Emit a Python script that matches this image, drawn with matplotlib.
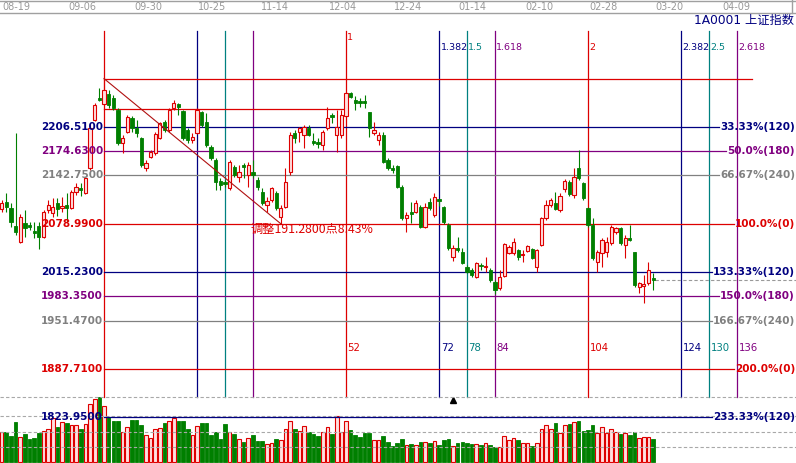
import matplotlib
matplotlib.use('Agg')
import matplotlib.pyplot as plt
from matplotlib.lines import Line2D
from matplotlib.transforms import blended_transform_factory
import numpy as np

plt.rcParams['font.family'] = ['DejaVu Sans', 'Noto Sans CJK SC']

# ---------------- data ----------------
first_bar = -22  # bar index of the first candle (0 = swing high bar)
opens = [2098.5, 2107.7, 2099.8, 2076.1, 2055.0, 2080.0, 2077.4, 2069.5, 2076.1, 2061.6,
         2097.2, 2093.2, 2106.4, 2099.8, 2103.7, 2099.8, 2120.9, 2126.1, 2119.5, 2152.5,
         2215.7, 2244.7,
         2236.8, 2250.0, 2244.7, 2228.9, 2185.4, 2199.9, 2218.3, 2205.2, 2192.0, 2152.5,
         2166.9, 2172.2, 2192.0, 2213.1, 2202.6, 2231.5, 2236.8, 2227.6, 2202.6, 2189.4,
         2198.6, 2226.3, 2213.1, 2180.2, 2163.0, 2135.4, 2134.0, 2126.1, 2153.8, 2140.6,
         2156.4, 2143.3, 2147.2, 2136.7, 2120.9, 2103.7, 2110.3, 2119.5, 2087.9, 2101.1,
         2147.2, 2198.6, 2199.9, 2196.0, 2205.2, 2188.1, 2186.7, 2182.8, 2205.2, 2222.3,
         2196.0, 2196.0, 2221.0, 2251.3, 2242.1, 2240.8, 2240.8, 2226.3, 2198.6, 2189.4,
         2196.0, 2163.0, 2152.5, 2155.1, 2127.5, 2086.6, 2094.5, 2094.5, 2101.1, 2074.8,
         2107.7, 2090.6, 2111.6, 2101.1, 2077.4, 2035.2, 2047.1, 2041.8, 2022.1, 2018.1,
         2008.9, 2024.7, 2022.1, 2018.1, 2002.3, 1994.4, 2010.2, 2040.5, 2040.5, 2044.5,
         2037.9, 2043.1, 2045.8, 2022.1, 2051.0, 2086.6, 2103.7, 2106.4, 2097.2, 2124.8,
         2134.0, 2116.9, 2152.5, 2132.7, 2099.8, 2077.4, 2028.7, 2040.5, 2041.8, 2053.7,
         2068.2, 2073.4, 2051.0, 2060.3, 2041.8, 1995.7, 1997.0, 2001.0, 2007.6]
highs = [2110.3, 2119.5, 2106.4, 2198.6, 2091.9, 2097.2, 2081.4, 2081.4, 2081.4, 2097.2,
         2110.3, 2113.0, 2113.0, 2114.3, 2119.5, 2123.5, 2132.7, 2132.7, 2140.6, 2211.8,
         2238.1, 2257.9,
         2270.27, 2255.2, 2248.7, 2231.5, 2196.0, 2222.3, 2221.0, 2215.7, 2193.3, 2163.0,
         2176.2, 2199.9, 2213.1, 2215.7, 2231.5, 2242.1, 2238.1, 2228.9, 2205.2, 2198.6,
         2231.5, 2227.6, 2224.9, 2182.8, 2165.7, 2139.3, 2136.7, 2163.0, 2156.4, 2156.4,
         2159.1, 2160.4, 2163.0, 2140.6, 2126.1, 2114.3, 2127.5, 2122.2, 2103.7, 2152.5,
         2199.9, 2202.6, 2206.5, 2209.1, 2209.1, 2198.6, 2192.0, 2202.6, 2232.8, 2224.9,
         2228.9, 2228.9, 2252.6, 2252.6, 2247.3, 2244.7, 2248.7, 2226.3, 2213.1, 2199.9,
         2199.9, 2165.7, 2156.4, 2156.4, 2130.1, 2094.5, 2107.7, 2110.3, 2103.7, 2106.4,
         2113.0, 2119.5, 2111.6, 2102.4, 2080.0, 2051.0, 2061.6, 2047.1, 2024.7, 2020.7,
         2028.7, 2027.3, 2035.2, 2020.7, 2004.9, 2018.1, 2053.7, 2051.0, 2060.3, 2045.8,
         2044.5, 2051.0, 2047.1, 2045.8, 2087.9, 2110.3, 2113.0, 2120.9, 2119.5, 2138.0,
         2136.7, 2152.5, 2176.2, 2134.0, 2101.1, 2086.6, 2044.5, 2060.3, 2061.6, 2077.4,
         2074.8, 2074.8, 2064.2, 2077.4, 2041.8, 2002.3, 2011.5, 2028.7, 2014.2]
lows = [2094.5, 2094.5, 2074.8, 2064.2, 2053.7, 2061.6, 2070.8, 2060.3, 2045.8, 2060.3,
        2093.2, 2087.9, 2089.3, 2094.5, 2081.4, 2098.5, 2116.9, 2115.6, 2118.2, 2149.9,
        2214.4, 2240.8,
        2235.5, 2231.5, 2228.9, 2182.8, 2172.2, 2198.6, 2199.9, 2193.3, 2153.8, 2148.5,
        2165.7, 2169.6, 2190.7, 2199.9, 2199.9, 2228.9, 2222.3, 2189.4, 2185.4, 2185.4,
        2197.3, 2206.5, 2180.2, 2163.0, 2123.5, 2123.5, 2127.5, 2123.5, 2140.6, 2134.0,
        2139.3, 2127.5, 2139.3, 2123.5, 2103.7, 2094.5, 2107.7, 2097.2, 2078.99, 2099.8,
        2143.3, 2185.4, 2186.7, 2178.8, 2194.6, 2182.8, 2178.8, 2176.2, 2202.6, 2211.8,
        2173.6, 2192.0, 2219.7, 2244.7, 2228.9, 2232.8, 2231.5, 2193.3, 2196.0, 2182.8,
        2159.1, 2149.9, 2145.9, 2126.1, 2084.0, 2068.2, 2080.0, 2093.2, 2073.4, 2073.4,
        2097.2, 2087.9, 2102.4, 2078.7, 2044.5, 2030.0, 2041.8, 2026.0, 2014.2, 2008.9,
        2007.6, 2018.1, 2015.5, 2002.3, 1986.5, 1991.8, 2008.9, 2039.2, 2037.9, 2031.3,
        2028.7, 2041.8, 2032.6, 2015.5, 2049.7, 2084.0, 2101.1, 2097.2, 2094.5, 2120.9,
        2115.6, 2113.0, 2136.7, 2110.3, 2074.8, 2031.3, 2015.5, 2022.1, 2035.2, 2051.0,
        2065.5, 2051.0, 2033.9, 2056.3, 1995.7, 1987.8, 1974.6, 1998.4, 1991.8]
closes = [2106.4, 2101.1, 2081.4, 2068.2, 2087.9, 2073.4, 2074.8, 2066.9, 2061.6, 2094.5,
          2103.7, 2101.1, 2098.5, 2102.4, 2099.8, 2120.9, 2127.5, 2123.5, 2139.3, 2205.2,
          2235.5, 2242.1,
          2255.2, 2235.5, 2231.5, 2185.4, 2192.0, 2219.7, 2205.2, 2198.6, 2156.4, 2159.1,
          2173.6, 2197.3, 2211.8, 2202.6, 2228.9, 2238.1, 2232.8, 2192.0, 2189.4, 2193.3,
          2228.9, 2209.1, 2182.8, 2165.7, 2134.0, 2130.1, 2131.4, 2160.4, 2143.3, 2147.2,
          2153.8, 2156.4, 2143.3, 2127.5, 2106.4, 2109.0, 2126.1, 2099.8, 2099.8, 2134.0,
          2196.0, 2192.0, 2205.2, 2206.5, 2196.0, 2185.4, 2184.1, 2199.9, 2218.3, 2219.7,
          2206.5, 2222.3, 2251.3, 2246.0, 2238.1, 2238.1, 2238.1, 2205.2, 2202.6, 2196.0,
          2160.4, 2152.5, 2149.9, 2127.5, 2086.6, 2090.6, 2091.9, 2106.4, 2074.8, 2101.1,
          2099.8, 2114.3, 2109.0, 2081.4, 2047.1, 2047.1, 2044.5, 2027.3, 2015.5, 2011.5,
          2027.3, 2023.4, 2023.4, 2004.9, 1991.8, 2008.9, 2052.4, 2048.4, 2055.0, 2035.2,
          2039.2, 2049.7, 2033.9, 2044.5, 2086.6, 2103.7, 2110.3, 2098.5, 2115.6, 2135.4,
          2118.2, 2140.6, 2139.3, 2113.0, 2077.4, 2033.9, 2041.8, 2057.6, 2055.0, 2074.8,
          2073.4, 2053.7, 2060.3, 2057.6, 1998.4, 2001.0, 1999.7, 2018.1, 2004.9]
volumes = [30, 30, 26, 40, 25, 28, 23, 24, 29, 31, 33, 44, 35, 40, 39, 37, 37, 33, 38, 58,
           63, 65,
           56, 45, 41, 41, 30, 35, 42, 42, 37, 27, 24, 33, 34, 39, 41, 44, 41, 41, 33, 27,
           36, 39, 39, 27, 30, 23, 38, 30, 28, 23, 20, 24, 27, 21, 21, 18, 19, 23, 22, 33,
           41, 33, 31, 36, 30, 28, 26, 30, 35, 28, 46, 30, 41, 32, 27, 25, 29, 29, 22, 22,
           26, 20, 16, 19, 23, 17, 18, 17, 20, 20, 19, 21, 17, 22, 23, 16, 19, 20, 19, 18,
           18, 17, 19, 17, 15, 15, 26, 22, 24, 22, 19, 19, 16, 19, 33, 37, 33, 39, 29, 37,
           38, 40, 41, 31, 32, 37, 29, 35, 29, 33, 30, 28, 29, 27, 30, 24, 25, 25, 23]

date_labels = ['08-19', '09-06', '09-30', '10-25', '11-14', '12-04',
               '12-24', '01-14', '02-10', '02-28', '03-20', '04-09']
date_pos = [-18.9, -4.7, 9.5, 23.2, 36.7, 51.4, 65.3, 79.1, 93.5, 107.4, 121.6, 135.8]

fib_high, fib_low = 2270.27, 2078.99
fib_high_bar, fib_low_bar = 0, 38
prior_level = 2230.2  # second red reference line
level_fracs = [1 / 3, 1 / 2, 2 / 3, 1, 4 / 3, 3 / 2, 5 / 3, 2, 7 / 3]
level_pct_text = ['33.33%', '50.0%', '66.67%', '100.0%', '133.33%', '150.0%',
                  '166.67%', '200.0%', '233.33%']
level_tags = ['(120)', '(180)', '(240)', '(0)', '(120)', '(180)', '(240)', '(0)', '(120)']
time_base = 52
time_ratios = [0.382, 0.5, 0.618, 1, 1.382, 1.5, 1.618, 2, 2.382, 2.5, 2.618]
title_text = '1A0001 上证指数'

# ---------------- style ----------------
RED = '#dd0000'
NAVY = '#000080'
PURPLE = '#800080'
GRAY = '#808080'
TEAL = '#008080'
GREEN = '#007f00'
PINK = '#ffe0e0'
GRID = '#a8a8a8'
tag_color = {'(120)': NAVY, '(180)': PURPLE, '(240)': GRAY, '(0)': RED}

W, H = 796, 463
fig = plt.figure(figsize=(W / 100, H / 100), dpi=100)

def fy(ypix):
    return 1 - ypix / H

xlim = (-22.35, 148.7)
ax_v = fig.add_axes([0, 0, 1, (H - 397) / H], zorder=0)
ax = fig.add_axes([0, 0, 1, (H - 13) / H], zorder=1)
ax.patch.set_alpha(0)
for a in (ax, ax_v):
    a.set_xlim(*xlim)
    a.axis('off')
ax.set_ylim(1763.85, 2356.68)
ax_v.set_ylim(-1, 65)

n = len(opens)
assert len(highs) == n and len(lows) == n and len(closes) == n and len(volumes) == n
idx = np.arange(first_bar, first_bar + n)
o = np.array(opens); h = np.array(highs); l = np.array(lows); c = np.array(closes)
up = c >= o

# ---- volume panel ----
for val in (15, 30.5, 46):
    ax_v.axhline(val, color=GRID, lw=0.8, ls=(0, (3, 2)))
vol = np.array(volumes)
ax_v.bar(idx[up], vol[up], width=0.78, color=PINK, edgecolor=RED, lw=0.8)
ax_v.bar(idx[~up], vol[~up], width=0.78, color=GREEN, edgecolor=GREEN, lw=0.6)
ax_v.plot([75], [62.3], marker='^', color='black', ms=4)
fig.add_artist(Line2D([0, 1], [fy(397), fy(397)], color=GRID, lw=0.8, ls=(0, (3, 2))))

# ---- candles ----
top = np.maximum(o, c); bot = np.minimum(o, c)
ax.vlines(idx[up], top[up], h[up], color=RED, lw=0.8, zorder=3)
ax.vlines(idx[up], l[up], bot[up], color=RED, lw=0.8, zorder=3)
ax.vlines(idx[~up], l[~up], h[~up], color=GREEN, lw=0.8, zorder=3)
hgt = np.maximum(top - bot, 0.6)
ax.bar(idx[up], hgt[up], bottom=bot[up], width=0.7, color=PINK, edgecolor=RED, lw=0.8, zorder=4)
ax.bar(idx[~up], hgt[~up], bottom=bot[~up], width=0.7, color=GREEN, edgecolor=GREEN, lw=0.6, zorder=4)

# ---- time zone lines ----
vymin = (H - 397) / (H - 13)
vymax = (H - 31) / (H - 13)
tr_top = blended_transform_factory(ax.transData, ax.transAxes)
def ratio_color(r):
    frac = round(r % 1, 3)
    return {0.0: RED, 0.382: NAVY, 0.5: TEAL, 0.618: PURPLE}[frac]
ax.axvline(fib_high_bar, ymin=vymin, ymax=vymax, color=RED, lw=0.9, zorder=2)
for r in time_ratios:
    b = fib_high_bar + int(round(time_base * r))
    col = ratio_color(r)
    ax.axvline(b, ymin=vymin, ymax=vymax, color=col, lw=0.9, zorder=2)
    if r >= 1:
        lab = f'{r:g}'
        ytop = (H - 38) / (H - 13) if r == 1 else (H - 47) / (H - 13)
        ax.text(b + 0.3, ytop, lab, color=col, fontsize=6.8, va='center', ha='left',
                transform=tr_top, zorder=6)
        ax.text(b + 0.35, (H - 348) / (H - 13), str(b - fib_high_bar), color=col,
                fontsize=7.3, va='center', ha='left', transform=tr_top, zorder=6)

# ---- price levels ----
rng = fib_high - fib_low
x_right = xlim[0] + (xlim[1] - xlim[0]) * 795 / W
x_left = xlim[0] + (xlim[1] - xlim[0]) * 103 / W
labels = []
for frac, ptxt, tag in zip(level_fracs, level_pct_text, level_tags):
    val = round(fib_high - rng * frac, 2)
    col = tag_color[tag]
    t = ax.text(x_right, val, f'{ptxt}{tag}', color=col, fontsize=7.5,
                fontweight='bold', ha='right', va='center', zorder=6)
    ax.text(x_left, val, f'{val:.4f}', color=col, fontsize=7.5, fontweight='bold',
            ha='right', va='center', zorder=6)
    labels.append((t, val, col))

fig.canvas.draw()
inv = ax.transData.inverted()
for t, val, col in labels:
    bb = t.get_window_extent()
    xend = inv.transform((bb.x0 - 1, 0))[0]
    ax.plot([fib_high_bar, xend], [val, val], color=col, lw=0.9, zorder=2)

x_top_end = xlim[0] + (xlim[1] - xlim[0]) * 752 / W
ax.plot([fib_high_bar, x_top_end], [fib_high, fib_high], color=RED, lw=0.9, zorder=2)
ax.plot([fib_high_bar, time_base], [prior_level, prior_level], color=RED, lw=0.9, zorder=2)

# diagonal high->low and annotation
ax.plot([fib_high_bar, fib_low_bar], [fib_high, fib_low], color='#b01010', lw=0.8, zorder=5)
pct_drop = rng / fib_high * 100
ax.text(fib_low_bar - 6.6, fib_low - 7.6, f'调整{rng:.4f}点{pct_drop:.2f}%',
        color=RED, fontsize=8.8, ha='left', va='center', zorder=6,
        family=['Noto Sans CJK SC', 'DejaVu Sans'])

# current price dashed line
ax.plot([idx[-1] + 0.3, xlim[1]], [c[-1], c[-1]], color='#999999', lw=0.8,
        ls=(0, (3, 2)), zorder=2)

# ---- top date strip ----
fig.add_artist(Line2D([0, 1], [fy(13), fy(13)], color='#a0a0a0', lw=1))
fig.add_artist(Line2D([0, 1], [fy(0.6), fy(0.6)], color='#a0a0a0', lw=1))
fig.add_artist(Line2D([792 / W, 792 / W], [fy(0), fy(13)], color='#a0a0a0', lw=1))
tr_date = blended_transform_factory(ax.transData, fig.transFigure)
for lab, pos in zip(date_labels, date_pos):
    ax.text(pos, fy(7), lab, color='#999999', fontsize=7, ha='center', va='center',
            transform=tr_date, clip_on=False)
fig.text(794 / W, fy(20), title_text, color=NAVY, fontsize=8.8, ha='right', va='center')

fig.savefig('out.png', dpi=100, facecolor='white')
